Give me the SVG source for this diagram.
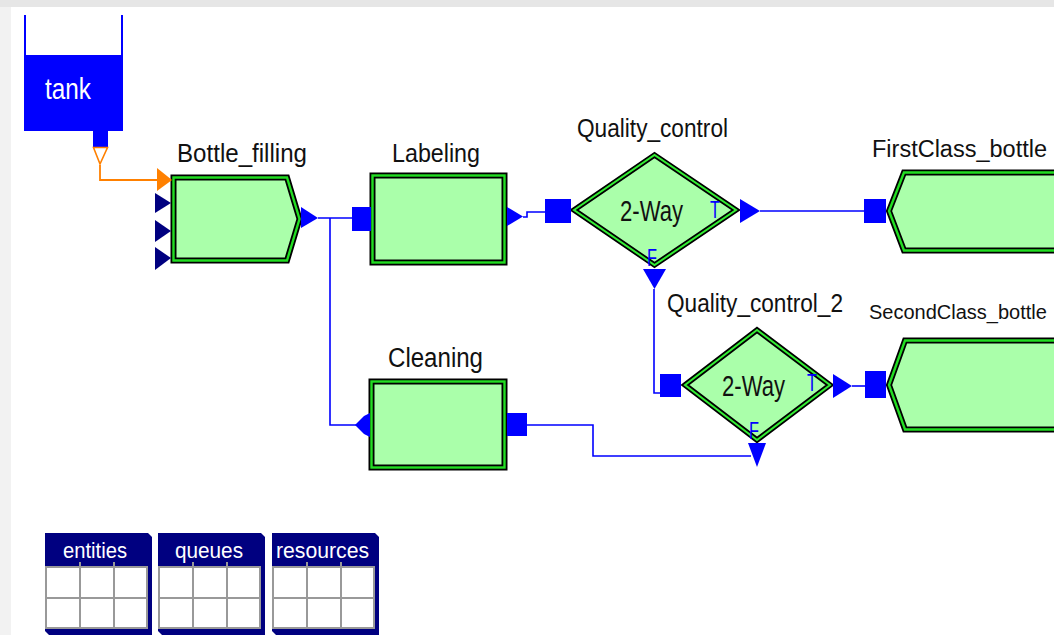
<svg xmlns="http://www.w3.org/2000/svg" width="1054" height="635" viewBox="0 0 1054 635">
  <style>
    .lbl { font-family: "Liberation Sans", Arial, sans-serif; fill: #111; }
    .frame { fill: #aaffaa; stroke: #000; stroke-width: 6; stroke-linejoin: miter; }
    .band { fill: none; stroke: #22dd22; stroke-width: 2.4; stroke-linejoin: miter; }
    .dframe { fill: #aaffaa; stroke: #000; stroke-width: 5.5; stroke-linejoin: miter; }
    .dband { fill: none; stroke: #33ee33; stroke-width: 2; stroke-linejoin: miter; }
    .port { fill: #0000ff; }
    .navy { fill: #000080; }
    .wire { fill: none; stroke: #0000ff; stroke-width: 1.6; }
    .tf { font-family: "Liberation Sans", Arial, sans-serif; fill: #0000ff; font-size: 23px; }
    .way { font-family: "Liberation Sans", Arial, sans-serif; fill: #111; font-size: 30px; }
    .hdr { font-family: "Liberation Sans", Arial, sans-serif; fill: #fff; font-size: 22px; }
    .grid { fill: #fff; stroke: #999; stroke-width: 2; }
    .gl { stroke: #999; stroke-width: 2; }
  </style>

  <defs>
    <!-- statistics panel: navy frame, header and 3x2 grid -->
    <g id="panel">
      <polygon class="navy" points="0,0 103,0 107,4 107,102 4,102 0,98"/>
      <rect class="grid" x="1" y="34" width="101" height="61"/>
      <line class="gl" x1="35" y1="29" x2="35" y2="95"/>
      <line class="gl" x1="69" y1="29" x2="69" y2="95"/>
      <line class="gl" x1="1" y1="65" x2="102" y2="65"/>
    </g>
  </defs>

  <!-- canvas -->
  <rect width="1054" height="635" fill="#ffffff"/>
  <rect x="0" y="0" width="1054" height="7" fill="#e6e6e6"/>
  <rect x="0" y="7" width="11" height="628" fill="#f2f2f2"/>

  <!-- connectors -->
  <g id="connectors">
    <path d="M100,165 V180 H158" fill="none" stroke="#ff8000" stroke-width="1.8"/>
    <path class="wire" d="M318,218 H352"/>
    <path class="wire" d="M330,218 V425 H356"/>
    <path class="wire" d="M523,217 H527 V212 H545"/>
    <path class="wire" d="M760,211 H864"/>
    <path class="wire" d="M654,289 V393 H660"/>
    <path class="wire" d="M852,386 H865"/>
    <path class="wire" d="M527,425 H593 V456 H751"/>
  </g>

  <!-- tank -->
  <g id="tank">
    <line x1="25" y1="15" x2="25" y2="56" stroke="#0000ff" stroke-width="2"/>
    <line x1="122" y1="15" x2="122" y2="56" stroke="#0000ff" stroke-width="2"/>
    <rect x="24" y="55" width="99" height="76" fill="#0000ff"/>
    <rect x="93" y="131" width="15" height="16" fill="#0000ff"/>
    <polygon points="93.5,147.5 107.5,147.5 100,164" fill="#fff" stroke="#ff8000" stroke-width="1.6"/>
    <text class="lbl" x="45" y="99" font-size="30" style="fill:#fff" textLength="46" lengthAdjust="spacingAndGlyphs">tank</text>
  </g>

  <!-- Bottle_filling -->
  <g id="bottle_filling">
    <path class="frame" d="M173.5,177.5 H287 L299.5,219 L287,260.5 H173.5 Z"/>
    <path class="band" d="M173.5,177.5 H287 L299.5,219 L287,260.5 H173.5 Z"/>
    <polygon points="157,168 172,180 157,191" fill="#ff8000"/>
    <polygon class="navy" points="155,193 171,203 155,213"/>
    <polygon class="navy" points="155,220 171,231 155,242"/>
    <polygon class="navy" points="155,247 171,258 155,270"/>
    <polygon class="port" points="301,207 318,218 301,228"/>
    <text class="lbl" x="177" y="162" font-size="26" textLength="130" lengthAdjust="spacingAndGlyphs">Bottle_filling</text>
  </g>

  <!-- Labeling -->
  <g id="labeling">
    <rect class="frame" x="372.5" y="175.5" width="132" height="87"/>
    <rect class="band" x="372.5" y="175.5" width="132" height="87"/>
    <rect class="port" x="352" y="207" width="19" height="24"/>
    <polygon class="port" points="507,207 523,216.5 507,226"/>
    <text class="lbl" x="392" y="162" font-size="26" textLength="88" lengthAdjust="spacingAndGlyphs">Labeling</text>
  </g>

  <!-- Quality_control -->
  <g id="quality_control">
    <polygon class="dframe" points="574,210 654.5,155 736,210 654.5,265"/>
    <polygon class="dband" points="574,210 654.5,155 736,210 654.5,265"/>
    <rect class="port" x="545" y="199" width="26" height="24"/>
    <polygon class="port" points="740,199 760,211 740,223"/>
    <polygon class="port" points="643,269 666,269 654.5,289"/>
    <text class="way" x="620" y="221" textLength="63" lengthAdjust="spacingAndGlyphs">2-Way</text>
    <text class="tf" x="710" y="218" textLength="10" lengthAdjust="spacingAndGlyphs">T</text>
    <text class="tf" x="647" y="266" textLength="10" lengthAdjust="spacingAndGlyphs">F</text>
    <text class="lbl" x="577" y="137" font-size="25" textLength="151" lengthAdjust="spacingAndGlyphs">Quality_control</text>
  </g>

  <!-- FirstClass_bottle -->
  <g id="firstclass_bottle">
    <path class="frame" d="M1062,172.5 H904 L889,211 L904,250.5 H1062 Z"/>
    <path class="band" d="M1062,172.5 H904 L889,211 L904,250.5 H1062 Z"/>
    <rect class="port" x="864" y="199" width="22" height="24"/>
    <text class="lbl" x="872" y="157" font-size="23.5">FirstClass_bottle</text>
  </g>

  <!-- Quality_control_2 -->
  <g id="quality_control_2">
    <polygon class="dframe" points="685,385 757,330 830,385 757,440"/>
    <polygon class="dband" points="685,385 757,330 830,385 757,440"/>
    <rect class="port" x="660" y="374" width="21" height="23"/>
    <polygon class="port" points="833,374 852,386 833,398"/>
    <polygon class="port" points="748,443 766,443 757,467"/>
    <text class="way" x="722" y="396" textLength="63" lengthAdjust="spacingAndGlyphs">2-Way</text>
    <text class="tf" x="807" y="391" textLength="10" lengthAdjust="spacingAndGlyphs">T</text>
    <text class="tf" x="749" y="439" textLength="10" lengthAdjust="spacingAndGlyphs">F</text>
    <text class="lbl" x="667" y="312" font-size="26" textLength="176" lengthAdjust="spacingAndGlyphs">Quality_control_2</text>
  </g>

  <!-- SecondClass_bottle -->
  <g id="secondclass_bottle">
    <path class="frame" d="M1062,340.5 H905 L889,385 L905,429.5 H1062 Z"/>
    <path class="band" d="M1062,340.5 H905 L889,385 L905,429.5 H1062 Z"/>
    <rect class="port" x="865" y="371" width="21" height="27"/>
    <text class="lbl" x="869" y="319" font-size="20">SecondClass_bottle</text>
  </g>

  <!-- Cleaning -->
  <g id="cleaning">
    <rect class="frame" x="371.5" y="381.5" width="133" height="86"/>
    <rect class="band" x="371.5" y="381.5" width="133" height="86"/>
    <polygon class="port" points="355,425 364,416 370,413 370,437 364,434"/>
    <rect class="port" x="507" y="413" width="20" height="23"/>
    <text class="lbl" x="388" y="367" font-size="27" textLength="95" lengthAdjust="spacingAndGlyphs">Cleaning</text>
  </g>

  <!-- statistics panels -->
  <g id="entities" transform="translate(45,533)">
    <use href="#panel"/>
    <text class="hdr" x="18" y="25" textLength="64" lengthAdjust="spacingAndGlyphs">entities</text>
  </g>
  <g id="queues" transform="translate(158,533)">
    <use href="#panel"/>
    <text class="hdr" x="17" y="25" textLength="68" lengthAdjust="spacingAndGlyphs">queues</text>
  </g>
  <g id="resources" transform="translate(272,533)">
    <use href="#panel"/>
    <text class="hdr" x="4" y="25" textLength="93" lengthAdjust="spacingAndGlyphs">resources</text>
  </g>
</svg>
